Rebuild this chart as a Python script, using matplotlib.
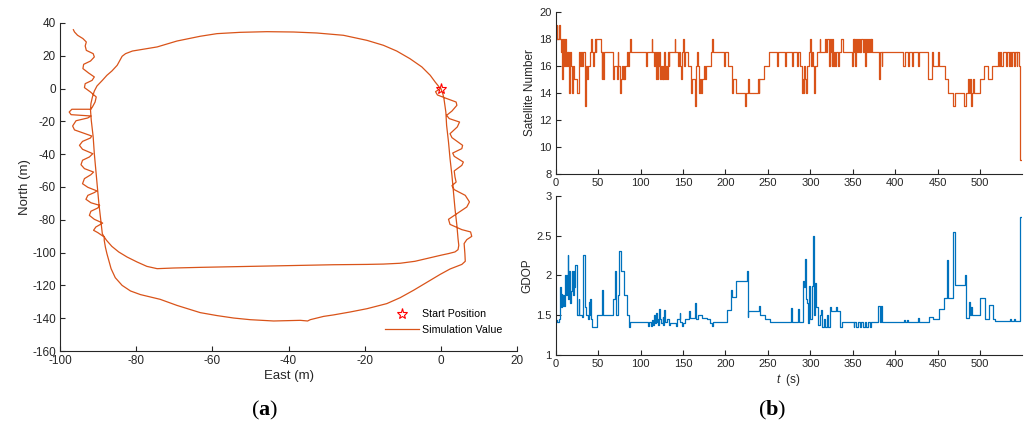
import matplotlib
matplotlib.use("Agg")
import matplotlib.pyplot as plt
import numpy as np

plt.rcParams['font.family'] = ['Liberation Sans', 'DejaVu Sans']
plt.rcParams['axes.unicode_minus'] = False
plt.rcParams['mathtext.fontset'] = 'custom'
plt.rcParams['mathtext.rm'] = 'Liberation Serif'
plt.rcParams['mathtext.bf'] = 'Liberation Serif:bold'
plt.rcParams['mathtext.it'] = 'Liberation Sans:italic'

# ---------------- trajectory (East, North) in metres ----------------
trajectory = [
    (0.0, 0.0), (0.5, -3.1), (0.8, -6.1), (1.3, -14.3), (1.5, -22.4), (2.0, -32.6),
    (2.4, -42.7), (2.9, -52.9), (3.3, -63.0), (3.7, -73.2), (4.2, -83.4), (4.5, -91.5),
    (4.7, -95.6), (4.5, -98.2), (3.7, -99.6), (2.0, -100.6), (0.2, -101.5), (-2.8, -103.1),
    (-6.8, -105.3), (-10.7, -106.5), (-15.1, -107.0), (-19.4, -107.2), (-28.2, -107.4),
    (-36.9, -107.8), (-45.7, -108.2), (-54.4, -108.6), (-63.2, -109.0), (-70.2, -109.4),
    (-74.5, -109.8), (-77.2, -108.4), (-79.8, -105.7), (-82.4, -102.7), (-84.6, -99.6),
    (-86.4, -96.2), (-87.8, -92.5), (-88.5, -90.1), (-88.9, -88.5), (-89.4, -78.3),
    (-89.8, -70.2), (-90.2, -60.0), (-90.6, -49.8), (-91.0, -39.7), (-91.3, -29.5),
    (-91.8, -19.4), (-92.0, -13.2), (-91.9, -9.2), (-91.5, -5.1), (-91.0, -1.5),
    (-90.3, 1.6), (-88.9, 5.0), (-87.7, 8.1), (-86.4, 10.7), (-85.0, 14.2), (-84.3, 17.2),
    (-83.7, 19.7), (-82.8, 21.3), (-81.0, 22.9), (-78.4, 23.9), (-74.5, 25.4),
    (-69.3, 29.0), (-63.2, 31.9), (-58.8, 33.5), (-52.7, 34.3), (-45.7, 34.7),
    (-38.7, 34.5), (-32.6, 33.9), (-25.6, 32.5), (-19.4, 29.4), (-15.1, 26.4),
    (-11.6, 22.9), (-8.1, 18.2), (-5.0, 13.2), (-2.8, 8.1), (-1.5, 4.0), (-0.6, 1.4),
    (-0.2, 0.0),
    # second lap, right-side wiggles
    (-1.4, -1.9), (-0.9, -3.9), (1.1, -5.7), (4.0, -8.2), (4.2, -10.2), (2.9, -13.7),
    (1.5, -16.3), (2.2, -18.3), (4.9, -20.4), (4.3, -23.4), (2.4, -27.5), (2.9, -29.9),
    (5.7, -34.6), (5.5, -36.6), (3.1, -39.3), (3.5, -41.3), (5.9, -44.8), (5.5, -46.8),
    (3.5, -50.2), (3.7, -53.9), (4.0, -57.0), (2.9, -59.2), (3.5, -61.6), (6.4, -65.1),
    (7.5, -69.1), (6.8, -72.2), (4.2, -76.3), (2.0, -79.7), (2.4, -82.8), (5.5, -86.0),
    (7.8, -87.4), (8.1, -90.1), (6.8, -92.1), (6.1, -94.5), (6.3, -100.6), (6.4, -105.3),
    (5.5, -107.2), (2.4, -110.0), (-0.2, -113.3), (-2.8, -116.9), (-7.2, -123.0),
    (-10.7, -127.5), (-14.2, -131.1), (-19.4, -134.2), (-23.8, -136.2), (-28.2, -138.0),
    (-30.8, -138.9), (-34.3, -140.9), (-35.0, -141.7), (-36.9, -141.3), (-40.4, -141.5),
    (-43.9, -141.7), (-50.1, -140.9), (-54.4, -139.9), (-58.8, -138.4), (-63.2, -136.6),
    (-69.3, -132.2), (-73.7, -128.5), (-78.9, -125.6), (-81.5, -123.4), (-83.7, -120.0),
    (-85.5, -115.3), (-86.6, -109.8), (-87.2, -104.7), (-87.7, -100.6), (-88.1, -96.6),
    (-88.4, -92.5), (-88.4, -90.5),
    # left-side wiggles
    (-90.1, -87.8), (-91.2, -86.4), (-90.6, -84.4), (-88.8, -82.0), (-91.0, -79.7),
    (-92.3, -77.3), (-91.9, -74.8), (-90.1, -72.8), (-89.6, -71.2), (-91.9, -69.6),
    (-93.2, -67.5), (-92.7, -65.1), (-91.0, -63.4), (-90.3, -62.4), (-92.7, -60.2),
    (-94.1, -58.0), (-93.6, -54.9), (-91.9, -52.5), (-91.2, -50.9), (-93.6, -48.8),
    (-94.5, -46.4), (-94.1, -43.7), (-92.3, -41.7), (-91.4, -39.7), (-94.1, -37.0),
    (-94.9, -34.6), (-94.1, -32.2), (-92.0, -30.1), (-91.7, -28.9), (-94.1, -26.9),
    (-96.2, -25.2), (-96.7, -22.8), (-95.8, -19.6), (-92.7, -17.9), (-91.9, -16.7),
    (-97.1, -15.9), (-97.6, -14.3), (-96.9, -12.6), (-91.9, -12.6), (-91.5, -11.2),
    (-90.8, -8.2), (-90.5, -5.1), (-92.0, -2.1), (-93.6, 0.6), (-93.4, 3.0), (-91.6, 5.0),
    (-91.0, 7.1), (-92.5, 9.5), (-94.0, 12.2), (-93.8, 14.8), (-92.0, 16.8), (-91.0, 19.3),
    (-91.3, 21.3), (-93.1, 23.3), (-93.4, 26.0), (-93.1, 28.4), (-94.0, 30.5),
    (-95.4, 32.5), (-96.2, 34.5), (-96.5, 35.9),
]
traj_east = [p[0] for p in trajectory]
traj_north = [p[1] for p in trajectory]
start_east = [0.0]
start_north = [0.0]

# ---------------- satellite number: (time s, count) change points ----------------
sat_steps = [
    (0, 18), (1, 19), (2, 18), (4, 19), (5, 18), (6, 17), (7, 18), (8, 15), (9, 18), (10, 16),
    (11, 18), (12, 16), (13, 17), (14, 16), (15, 17), (16, 14), (17, 17), (18, 16), (19, 14),
    (20, 16), (21, 15), (25, 14), (28, 17), (29, 16), (30, 17), (31, 16), (32, 17), (35, 13),
    (36, 16), (37, 15), (38, 16), (41, 17), (42, 18), (43, 17), (44, 16), (45, 17), (46, 18),
    (47, 17), (48, 18), (53, 17), (54, 15), (55, 17), (56, 15), (57, 17), (67, 16), (68, 15),
    (69, 16), (72, 15), (73, 17), (74, 16), (76, 14), (77, 15), (78, 16), (79, 15), (80, 16),
    (81, 15), (82, 16), (84, 17), (85, 16), (86, 17), (88, 18), (89, 17), (106, 16),
    (107, 17), (113, 18), (114, 17), (116, 16), (117, 17), (118, 15), (119, 17), (120, 15),
    (121, 16), (122, 17), (123, 15), (124, 16), (125, 15), (126, 16), (127, 15), (128, 17),
    (129, 15), (130, 16), (131, 15), (132, 17), (133, 16), (134, 17), (140, 18), (141, 17),
    (144, 16), (145, 17), (147, 16), (148, 15), (149, 17), (150, 18), (151, 16), (152, 17),
    (156, 16), (159, 15), (160, 14), (161, 15), (164, 13), (165, 16), (167, 17), (168, 16),
    (169, 14), (170, 15), (171, 14), (172, 15), (175, 16), (176, 15), (177, 16), (183, 17),
    (184, 18), (185, 17), (198, 16), (199, 17), (203, 16), (208, 14), (209, 15), (213, 14),
    (223, 13), (224, 14), (227, 15), (228, 14), (238, 15), (239, 14), (240, 15), (246, 16),
    (251, 17), (261, 16), (262, 17), (270, 16), (271, 17), (279, 16), (280, 17), (284, 16),
    (285, 17), (288, 16), (290, 14), (291, 15), (292, 14), (293, 16), (294, 15), (295, 14),
    (296, 16), (299, 17), (300, 18), (301, 16), (302, 17), (303, 16), (304, 14), (305, 16),
    (308, 17), (311, 18), (312, 17), (317, 18), (318, 17), (320, 18), (322, 16), (323, 18),
    (324, 17), (325, 16), (326, 18), (327, 16), (328, 17), (329, 16), (330, 17), (333, 16),
    (334, 17), (336, 18), (338, 17), (349, 16), (350, 18), (351, 17), (352, 18), (353, 16),
    (354, 18), (355, 17), (356, 18), (357, 17), (358, 18), (359, 17), (360, 18), (362, 17),
    (363, 18), (365, 16), (366, 18), (367, 17), (368, 18), (369, 17), (370, 18), (371, 17),
    (372, 18), (373, 17), (381, 15), (382, 17), (384, 16), (385, 17), (409, 16), (411, 17),
    (415, 16), (416, 17), (420, 16), (421, 17), (427, 16), (428, 17), (439, 15), (443, 17),
    (445, 16), (451, 17), (452, 16), (459, 15), (462, 14), (468, 13), (470, 14), (481, 13),
    (484, 14), (486, 15), (487, 14), (488, 15), (489, 13), (490, 14), (492, 15), (493, 14),
    (500, 15), (505, 16), (509, 15), (514, 16), (521, 17), (522, 16), (523, 17), (525, 16),
    (527, 17), (530, 16), (532, 17), (534, 16), (535, 17), (537, 16), (538, 17), (540, 16),
    (541, 17), (543, 16), (544, 17), (546, 16), (547, 9), (548, 9),
]
sat_t = [p[0] for p in sat_steps]
sat_n = [p[1] for p in sat_steps]

# ---------------- GDOP: (time s, value) change points ----------------
gdop_steps = [
    (0, 1.44), (2, 1.42), (4, 1.45), (5, 1.85), (6, 1.60), (7, 1.77), (8, 1.62), (9, 1.75),
    (10, 1.62), (11, 2.00), (12, 1.75), (13, 2.00), (14, 2.26), (15, 1.70), (16, 2.05),
    (17, 1.65), (18, 1.80), (19, 2.05), (20, 1.75), (21, 2.05), (22, 1.85), (23, 2.13),
    (25, 1.50), (27, 1.70), (28, 1.50), (31, 1.48), (32, 2.25), (34, 1.80), (35, 1.60),
    (36, 1.50), (38, 1.45), (39, 1.67), (40, 1.50), (41, 1.70), (42, 1.45), (43, 1.35),
    (49, 1.50), (55, 1.82), (56, 1.50), (68, 1.70), (70, 2.05), (71, 1.50), (73, 1.75),
    (75, 2.30), (77, 2.05), (80, 1.75), (84, 1.50), (86, 1.35), (87, 1.41), (109, 1.36),
    (110, 1.42), (112, 1.37), (113, 1.44), (115, 1.38), (116, 1.50), (117, 1.40),
    (118, 1.53), (119, 1.42), (120, 1.45), (121, 1.38), (122, 1.58), (123, 1.45),
    (124, 1.40), (126, 1.48), (127, 1.38), (128, 1.57), (129, 1.42), (131, 1.45),
    (133, 1.38), (135, 1.40), (142, 1.36), (143, 1.45), (146, 1.53), (147, 1.42),
    (149, 1.36), (150, 1.40), (152, 1.45), (157, 1.55), (158, 1.47), (164, 1.65),
    (165, 1.45), (168, 1.50), (172, 1.47), (178, 1.45), (182, 1.40), (184, 1.36),
    (185, 1.42), (202, 1.57), (207, 1.82), (208, 1.73), (213, 1.93), (225, 2.06),
    (226, 1.48), (227, 1.55), (240, 1.62), (241, 1.50), (247, 1.45), (252, 1.42),
    (277, 1.59), (278, 1.42), (286, 1.58), (287, 1.42), (291, 1.93), (293, 1.85),
    (294, 2.20), (295, 1.70), (296, 1.65), (297, 1.40), (299, 1.87), (300, 1.45),
    (302, 1.87), (303, 2.49), (304, 1.50), (305, 1.70), (306, 1.90), (307, 1.60),
    (309, 1.38), (311, 1.50), (313, 1.57), (314, 1.35), (316, 1.45), (317, 1.35),
    (320, 1.50), (321, 1.35), (323, 1.60), (324, 1.55), (330, 1.60), (331, 1.55),
    (335, 1.35), (337, 1.42), (351, 1.35), (352, 1.42), (354, 1.35), (356, 1.42),
    (358, 1.35), (360, 1.42), (362, 1.35), (364, 1.42), (366, 1.35), (368, 1.42),
    (370, 1.35), (372, 1.42), (380, 1.61), (382, 1.42), (383, 1.61), (384, 1.42),
    (410, 1.44), (411, 1.42), (414, 1.44), (415, 1.42), (427, 1.46), (428, 1.42),
    (440, 1.48), (445, 1.45), (452, 1.58), (458, 1.71), (461, 2.19), (462, 1.71),
    (468, 2.55), (470, 1.88), (482, 2.00), (484, 1.47), (487, 1.67), (488, 1.50),
    (489, 1.60), (490, 1.50), (500, 1.71), (506, 1.45), (510, 1.63), (515, 1.45),
    (518, 1.43), (535, 1.45), (536, 1.43), (540, 1.45), (541, 1.43), (547, 2.73),
    (548, 2.73),
]
gdop_t = [p[0] for p in gdop_steps]
gdop_v = [p[1] for p in gdop_steps]

ORANGE = '#D95319'
BLUE = '#0072BD'
AXC = '#262626'

fig = plt.figure(figsize=(10.30, 4.28), dpi=100)


def style(ax, fs):
    for s in ('top', 'right'):
        ax.spines[s].set_visible(False)
    for s in ('left', 'bottom'):
        ax.spines[s].set_color(AXC)
        ax.spines[s].set_linewidth(0.8)
    ax.tick_params(direction='in', length=3.5, width=0.8, colors=AXC,
                   labelsize=fs, pad=3)


# ---- (a) trajectory ----
axa = fig.add_axes([0.0583, 0.1799, 0.4437, 0.7664])
line_sim, = axa.plot(traj_east, traj_north, color=ORANGE, lw=0.9, zorder=2)
line_start, = axa.plot(start_east, start_north, linestyle='none', marker='*',
                       markersize=8, markerfacecolor='none', markeredgecolor='red',
                       markeredgewidth=0.8, zorder=3)
axa.set_xlim(-100, 20)
axa.set_ylim(-160, 40)
axa.set_xticks(np.arange(-100, 21, 20))
axa.set_yticks(np.arange(-160, 41, 20))
style(axa, 8.5)
axa.set_xlabel('East (m)', fontsize=9.5, color=AXC, labelpad=2)
axa.set_ylabel('North (m)', fontsize=9.5, color=AXC, labelpad=1)
axa.legend([line_start, line_sim], ['Start Position', 'Simulation Value'],
           loc='lower right', frameon=False, fontsize=7.7,
           bbox_to_anchor=(0.99, 0.02), handlelength=3.2, handletextpad=0.3,
           labelspacing=0.5)

# ---- (b) top: satellite number ----
axs = fig.add_axes([0.5395, 0.5935, 0.4524, 0.3792])
axs.plot(sat_t, sat_n, color=ORANGE, lw=0.9, drawstyle='steps-post')
axs.set_xlim(0, 549)
axs.set_ylim(8, 20)
axs.set_xticks(np.arange(0, 501, 50))
axs.set_yticks(np.arange(8, 21, 2))
style(axs, 8)
axs.set_ylabel('Satellite Number', fontsize=8.5, color=AXC, labelpad=2)

# ---- (b) bottom: GDOP ----
axg = fig.add_axes([0.5395, 0.1706, 0.4524, 0.3722])
axg.plot(gdop_t, gdop_v, color=BLUE, lw=0.9, drawstyle='steps-post')
axg.set_xlim(0, 549)
axg.set_ylim(1, 3)
axg.set_xticks(np.arange(0, 501, 50))
axg.set_yticks([1, 1.5, 2, 2.5, 3])
axg.set_yticklabels(['1', '1.5', '2', '2.5', '3'])
style(axg, 8)
axg.set_ylabel('GDOP', fontsize=8.5, color=AXC, labelpad=2)
axg.set_xlabel(r'$t$  (s)', fontsize=8.5, color=AXC, labelpad=2)

# ---- panel labels ----
fig.text(0.257, 0.042, r'$\mathrm{(}\mathbf{a}\mathrm{)}$', ha='center', va='center',
         fontsize=16, color='black')
fig.text(0.750, 0.042, r'$\mathrm{(}\mathbf{b}\mathrm{)}$', ha='center', va='center',
         fontsize=16, color='black')

fig.savefig('out.png', dpi=100)
